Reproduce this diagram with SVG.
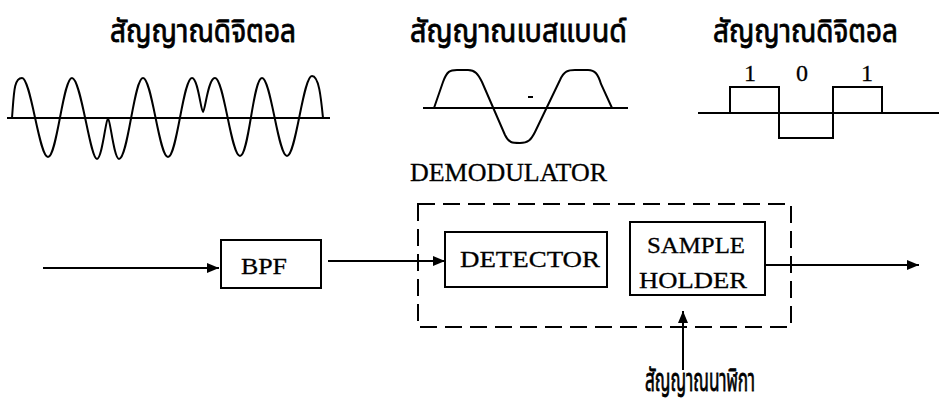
<svg xmlns="http://www.w3.org/2000/svg" width="939" height="404" viewBox="0 0 939 404">
<style>
.th{font-family:"Noto Sans Thai","Noto Sans","DejaVu Sans",sans-serif;font-size:32px;font-weight:normal;fill:#000;stroke:#000;stroke-width:0.8}
.sf{font-family:"Liberation Serif","Times New Roman",serif;fill:#000;stroke:#000;stroke-width:0.3}
.ln{fill:none;stroke:#000;stroke-width:2}
.box{fill:#fff;stroke:#000;stroke-width:2}
.dash{fill:none;stroke:#000;stroke-width:2;stroke-dasharray:17 8}
</style>
<defs>
<marker id="ah" viewBox="0 0 12 10" refX="12" refY="5" markerWidth="12" markerHeight="10" markerUnits="userSpaceOnUse" orient="auto">
<path d="M0,0 L12,5 L0,10 Z" fill="#000"/>
</marker>
</defs>

<g id="signal-fsk">
<text class="th" x="110" y="42" textLength="186" lengthAdjust="spacingAndGlyphs">สัญญาณดิจิตอล</text>
<line class="ln" x1="7" y1="118" x2="330" y2="118"/>
<path class="ln" d="M12 118 C14 92,14 78,22 78 C31 78,39 157,48 157 C57 157,63 78,72 78 C81 78,90 159,97 159 C102 159,106 118,108 118 C110 118,114 159,119 159 C128 159,134 78,143 78 C152 78,159 157,168 157 C177 157,183 78,192 78 C198 78,201 112,203 112 C205 112,208 78,215 78 C224 78,231 156,240 156 C249 156,253 78,262 78 C271 78,278 156,287 156 C296 156,303 76,312 76 C319 76,321 98,323 118"/>
</g>

<g id="signal-baseband">
<text class="th" x="410" y="42" textLength="217" lengthAdjust="spacingAndGlyphs">สัญญาณเบสแบนด์</text>
<line class="ln" x1="423" y1="108" x2="628" y2="108"/>
<path class="ln" d="M434 108 L443 82 C447 71,450 70,457 70 L468 70 C475 70,478 74,482 82 L505 135 C509 143,512 143,520 143 C528 143,531 140,535 132 L560 80 C564 71,568 70,575 70 L588 70 C595 70,598 74,601 84 L612 108"/>
<line class="ln" x1="528" y1="97" x2="533" y2="97"/>
</g>

<g id="signal-digital">
<text class="th" x="713" y="42" textLength="185" lengthAdjust="spacingAndGlyphs">สัญญาณดิจิตอล</text>
<line class="ln" x1="698" y1="113" x2="939" y2="113"/>
<path class="ln" d="M730 113 V87 H779 V138 H833 V87 H882 V113"/>
<text class="sf" x="750" y="81" font-size="24" text-anchor="middle">1</text>
<text class="sf" x="802" y="81" font-size="24" text-anchor="middle">0</text>
<text class="sf" x="867" y="81" font-size="24" text-anchor="middle">1</text>
</g>

<g id="demodulator">
<rect class="dash" x="418" y="204" width="373" height="123"/>
<text class="sf" x="410" y="181" font-size="25.5" textLength="197" lengthAdjust="spacingAndGlyphs">DEMODULATOR</text>
</g>

<g id="bpf">
<rect class="box" x="221" y="240" width="100" height="48"/>
<text class="sf" x="241" y="274" font-size="24" textLength="46" lengthAdjust="spacingAndGlyphs">BPF</text>
</g>

<g id="detector">
<rect class="box" x="445" y="232" width="162" height="55"/>
<text class="sf" x="460" y="267" font-size="24" textLength="140" lengthAdjust="spacingAndGlyphs">DETECTOR</text>
</g>

<g id="sample-holder">
<rect class="box" x="630" y="222" width="135" height="73"/>
<text class="sf" x="647" y="253" font-size="24" textLength="98" lengthAdjust="spacingAndGlyphs">SAMPLE</text>
<text class="sf" x="639" y="288" font-size="24" textLength="108" lengthAdjust="spacingAndGlyphs">HOLDER</text>
</g>

<g id="clock">
<text class="th" x="645" y="391" font-size="30" textLength="110" lengthAdjust="spacingAndGlyphs">สัญญาณนาฬิกา</text>
</g>

<g id="connectors">
<line class="ln" x1="43" y1="268" x2="219" y2="268" marker-end="url(#ah)"/>
<line class="ln" x1="328" y1="261" x2="445" y2="261" marker-end="url(#ah)"/>
<line class="ln" x1="765" y1="265" x2="919" y2="265" marker-end="url(#ah)"/>
<line class="ln" x1="683" y1="370" x2="683" y2="311" marker-end="url(#ah)"/>
</g>
</svg>
